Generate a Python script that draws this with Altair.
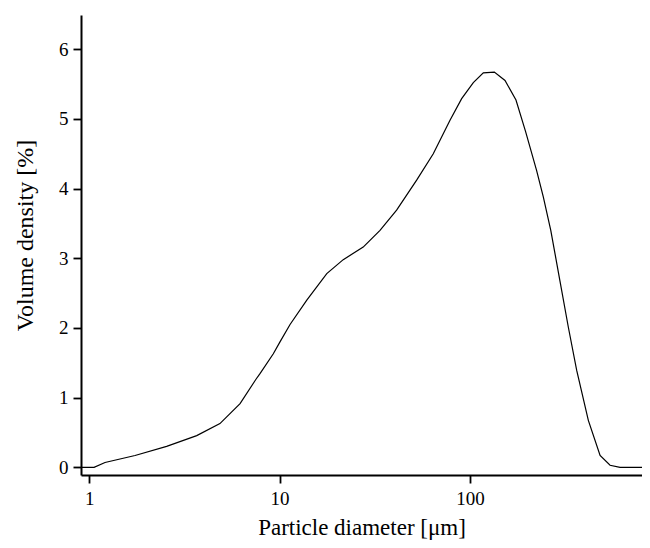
import altair as alt
import pandas as pd

diameter = [0.905, 1.06, 1.21, 1.74, 2.55, 3.67, 4.86, 6.2, 7.5, 7.89, 9.27, 10.05, 11.35,
            13.9, 17.7, 21.6, 27.5, 33.7, 41.2, 52.5, 64.2, 78.6, 90.5, 104.2, 117.6,
            134.4, 152.9, 174.6, 196.0, 224.0, 243.0, 266.0, 297.0, 329.0, 364.0, 419.0,
            483.0, 545.0, 615.0, 880.0]
density = [0.0, 0.0, 0.07, 0.17, 0.30, 0.455, 0.627, 0.914, 1.26, 1.344, 1.63, 1.80, 2.05,
           2.40, 2.78, 2.98, 3.16, 3.40, 3.69, 4.12, 4.50, 4.98, 5.29, 5.52, 5.66,
           5.67, 5.55, 5.27, 4.82, 4.26, 3.88, 3.40, 2.68, 2.01, 1.39, 0.674,
           0.17, 0.03, 0.0, 0.0]
x_ticks = [1, 10, 100]
y_ticks = [0, 1, 2, 3, 4, 5, 6]

df = pd.DataFrame({"d": diameter, "v": density})

font = "Liberation Serif"

chart = alt.Chart(df).mark_line(color="black", strokeWidth=1.2, clip=True).encode(
    x=alt.X("d:Q",
            scale=alt.Scale(type="log", domain=[0.905, 802], nice=False),
            axis=alt.Axis(values=x_ticks, format=".0f", title="Particle diameter [μm]",
                          grid=False, domainColor="black", domainWidth=2,
                          tickColor="black", tickWidth=1.8, tickSize=8,
                          labelFont=font, labelFontSize=19, labelColor="black",
                          labelPadding=6, labelFlush=False,
                          titleFont=font, titleFontSize=23, titleFontWeight="normal",
                          titleColor="black", titleBaseline="alphabetic", titleY=59)),
    y=alt.Y("v:Q",
            scale=alt.Scale(domain=[-0.11, 6.49], nice=False, zero=False),
            axis=alt.Axis(values=y_ticks, title="Volume density [%]",
                          grid=False, domainColor="black", domainWidth=2,
                          tickColor="black", tickWidth=1.8, tickSize=8,
                          labelFont=font, labelFontSize=19, labelColor="black",
                          labelPadding=5, labelFlush=False,
                          titleFont=font, titleFontSize=24, titleFontWeight="normal",
                          titleColor="black", titleBaseline="alphabetic",
                          titleX=-49, titleY=220, titleAngle=270)),
).properties(
    width=561, height=460,
    background="white",
    autosize=alt.AutoSizeParams(type="none"),
    padding={"left": 73, "top": 7, "right": 0, "bottom": 65},
).configure_view(stroke=None)

chart.save("out.html", embed_options={"renderer": "svg", "actions": False})
